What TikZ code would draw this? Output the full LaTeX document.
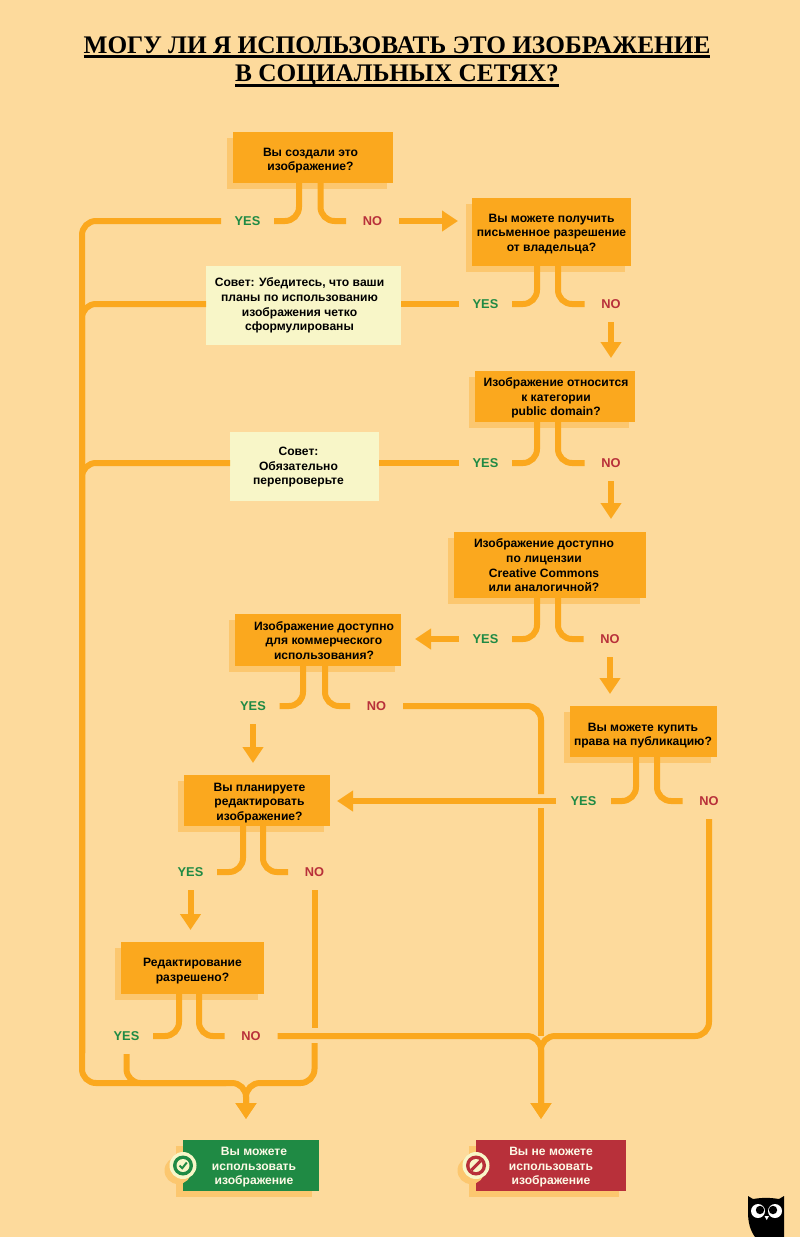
\documentclass[tikz,border=0pt]{standalone}
\usepackage{fontspec}
\setmainfont{Liberation Sans}
\newfontfamily\titlefont{Liberation Serif}
\usepackage{xcolor}
\usetikzlibrary{positioning,shapes,arrows.meta,shadows}

\definecolor{pagebg}{HTML}{FDDA9C}
\definecolor{flowcol}{HTML}{FBA81E}
\definecolor{shadecol}{HTML}{FCC76F}
\definecolor{tipcol}{HTML}{F8F6C8}
\definecolor{yescol}{HTML}{1F8A44}
\definecolor{nocol}{HTML}{B8303A}
\definecolor{endtext}{HTML}{FDF9E6}

\newcommand{\boxlines}[2]{\hspace*{#1}\begin{tabular}[t]{@{}c@{}}#2\end{tabular}}

\begin{document}
\begin{tikzpicture}[
    x=1pt, y=-1pt,
    every node/.style={outer sep=0pt},
    qbox/.style={rectangle, fill=flowcol, inner sep=0pt, text=black,
        font=\fontsize{12.1}{14.6}\selectfont\bfseries,
        drop shadow={shadow xshift=-6pt, shadow yshift=-6pt, fill=shadecol, opacity=1}},
    tipbox/.style={rectangle, fill=tipcol, inner sep=0pt, text=black,
        font=\fontsize{12.1}{14.6}\selectfont\bfseries},
    endbox/.style={rectangle, inner sep=0pt, text=endtext, minimum width=136pt, minimum height=51pt,
        font=\fontsize{12.1}{14.6}\selectfont\bfseries,
        drop shadow={shadow xshift=-7pt, shadow yshift=-6pt, fill=shadecol, opacity=1}},
    yeslab/.style={inner sep=0pt, minimum width=53pt, minimum height=36pt, text=yescol, font=\fontsize{12.8}{15}\selectfont\bfseries},
    nolab/.style={inner sep=0pt, minimum width=53pt, minimum height=36pt, text=nocol, font=\fontsize{12.8}{15}\selectfont\bfseries},
    titlelab/.style={anchor=base, inner sep=0pt, font=\titlefont\fontsize{25.3}{28}\selectfont\bfseries},
    titleline/.style={line width=2.4pt, black},
    flow/.style={draw=flowcol, line width=6pt, rounded corners=14pt},
    arrow/.style={flow, -{Triangle[width=20pt,length=16pt]}},
    badge/.style={circle, inner sep=0pt, fill=tipcol, minimum size=27pt,
        drop shadow={shadow xshift=-5pt, shadow yshift=-5pt, fill=shadecol, opacity=1}},
]
    \useasboundingbox (0,0) rectangle (800,1237);
    \fill[pagebg] (0,0) rectangle (800,1237);

    % Title
    \node[titlelab] (title1) at (397,53) {МОГУ ЛИ Я ИСПОЛЬЗОВАТЬ ЭТО ИЗОБРАЖЕНИЕ};
    \node[titlelab] (title2) at (397,81) {В СОЦИАЛЬНЫХ СЕТЯХ?};
    \draw[titleline] ([yshift=-3.6pt]title1.base west) -- ([yshift=-3.6pt]title1.base east);
    \draw[titleline] ([yshift=-4.4pt]title2.base west) -- ([yshift=-4.4pt]title2.base east);

    % Questions
    \node[qbox, minimum width=160pt, minimum height=51pt, text height=16pt] (q1) at (313,157.5) {\boxlines{-5pt}{Вы создали это\\изображение?}};
    \node[qbox, minimum width=159pt, minimum height=68pt, text height=14pt, below right=15pt and 79pt of q1] (q2) {\boxlines{0pt}{Вы можете получить\\письменное разрешение\\от владельца?}};
    \node[qbox, minimum width=160pt, minimum height=51pt, text height=14pt, below=105pt of q2, xshift=3.5pt] (q3) {\boxlines{2pt}{Изображение относится\\к категории\\public domain?}};
    \node[qbox, minimum width=192pt, minimum height=66pt, text height=14pt, below=110pt of q3, xshift=-5pt] (q4) {\boxlines{-12pt}{Изображение доступно\\по лицензии\\Creative Commons\\или аналогичной?}};
    \node[qbox, minimum width=147pt, minimum height=51pt, text height=18pt, below=108pt of q4, xshift=93.5pt] (q5) {\boxlines{-1pt}{Вы можете купить\\права на публикацию?}};
    \node[qbox, minimum width=166pt, minimum height=52pt, text height=14pt, left=53pt of q4, yshift=-75pt] (q6) {\boxlines{12pt}{Изображение доступно\\для коммерческого\\использования?}};
    \node[qbox, minimum width=146pt, minimum height=51pt, text height=15pt, below=109pt of q6, xshift=-61pt] (q7) {\boxlines{5pt}{Вы планируете\\редактировать\\изображение?}};
    \node[qbox, minimum width=143pt, minimum height=52pt, text height=16pt, below=116pt of q7, xshift=-64.5pt] (q8) {\boxlines{0pt}{Редактирование\\разрешено?}};

    % Tips
    \node[tipbox, minimum width=195pt, minimum height=79pt, text height=11pt, below=83pt of q1, xshift=-9.5pt] (tip1) {\boxlines{-8pt}{Совет: Убедитесь, что ваши\\планы по использованию\\изображения четко\\сформулированы}};
    \node[tipbox, minimum width=149pt, minimum height=69pt, text height=12pt, below=87pt of tip1, xshift=1pt] (tip2) {\boxlines{-12pt}{Совет:\\Обязательно\\перепроверьте}};

    % Answers
    \node[endbox, fill=yescol, text height=14pt, below=146pt of q8, xshift=58.5pt] (ok) {\boxlines{6pt}{Вы можете\\использовать\\изображение}};
    \node[endbox, fill=nocol, text height=14pt, minimum width=150pt, right=157pt of ok] (no) {\boxlines{0pt}{Вы не можете\\использовать\\изображение}};
    \coordinate (oktip) at ([shift={(-5pt,21pt)}]ok.north);
    \coordinate (notip) at ([shift={(-10pt,21pt)}]no.north);
    \coordinate (busl) at (82,1083);

    % Yes and no labels
    \node[yeslab, below=20pt of q1, xshift=-65.5pt] (y1) {YES};
    \node[nolab, below=20pt of q1, xshift=59.5pt] (n1) {NO};
    \node[yeslab, below=20pt of q2, xshift=-66pt] (y2) {YES};
    \node[nolab, below=20pt of q2, xshift=59.5pt] (n2) {NO};
    \node[yeslab, below=23pt of q3, xshift=-69.5pt] (y3) {YES};
    \node[nolab, below=23pt of q3, xshift=56pt] (n3) {NO};
    \node[yeslab, below=23pt of q4, xshift=-64.5pt] (y4) {YES};
    \node[nolab, below=23pt of q4, xshift=60pt] (n4) {NO};
    \node[yeslab, minimum width=55pt, below=26pt of q5, xshift=-60pt] (y5) {YES};
    \node[nolab, below=26pt of q5, xshift=65.5pt] (n5) {NO};
    \node[yeslab, below=22pt of q6, xshift=-65pt] (y6) {YES};
    \node[nolab, below=22pt of q6, xshift=58.5pt] (n6) {NO};
    \node[yeslab, below=28pt of q7, xshift=-66.5pt] (y7) {YES};
    \node[nolab, below=28pt of q7, xshift=57.5pt] (n7) {NO};
    \node[yeslab, below=24pt of q8, xshift=-66pt] (y8) {YES};
    \node[nolab, below=24pt of q8, xshift=58.5pt] (n8) {NO};

    % Legs under the questions
    \draw[flow] ([xshift=-14pt]q1.south) |- (y1);
    \draw[flow] ([xshift=7.5pt]q1.south) |- (n1);
    \draw[flow] ([xshift=-14.5pt]q2.south) |- (y2);
    \draw[flow] ([xshift=6.5pt]q2.south) |- (n2);
    \draw[flow] ([xshift=-18pt]q3.south) |- (y3);
    \draw[flow] ([xshift=3pt]q3.south) |- (n3);
    \draw[flow] ([xshift=-13pt]q4.south) |- (y4);
    \draw[flow] ([xshift=8pt]q4.south) |- (n4);
    \draw[flow] ([xshift=-7.5pt]q5.south) |- (y5);
    \draw[flow] ([xshift=13.5pt]q5.south) |- (n5);
    \draw[flow] ([xshift=-15pt]q6.south) |- (y6);
    \draw[flow] ([xshift=7pt]q6.south) |- (n6);
    \draw[flow] ([xshift=-14pt]q7.south) |- (y7);
    \draw[flow] ([xshift=6pt]q7.south) |- (n7);
    \draw[flow] ([xshift=-13.5pt]q8.south) |- (y8);
    \draw[flow] ([xshift=6.5pt]q8.south) |- (n8);

    % Arrows to the next question
    \draw[arrow, shorten >=14pt] (n1) -- (n1 -| q2.west);
    \draw[arrow, shorten >=13pt] (n2) -- (n2 |- q3.north);
    \draw[arrow, shorten >=13pt] (n3) -- (n3 |- q4.north);
    \draw[arrow, shorten >=14pt] (y4) -- (y4 -| q6.east);
    \draw[arrow, shorten >=12pt] (n4) -- (n4 |- q5.north);
    \draw[arrow, shorten >=12pt] (y6) -- (y6 |- q7.north);
    \draw[arrow, shorten >=7pt] (y5) -- (y5 -| q7.east);
    \draw[arrow, shorten >=12pt] (y7) -- (y7 |- q8.north);

    % Through the tips
    \draw[flow] (y2) -- (y2 -| tip1.east);
    \draw[flow] (tip1.west |- y2) -| ([yshift=30pt]busl);
    \draw[flow] (y3) -- (y3 -| tip2.east);
    \draw[flow] (tip2.west |- y3) -| ([yshift=30pt]busl);

    % To the allowed box
    \draw[arrow] (y1) -| (busl) -| (oktip);
    \draw[flow] (y8) |- ([xshift=-20pt]oktip |- busl);
    \draw[flow] (n7) -- ([yshift=8pt]n7.south |- n8);
    \draw[arrow] ([yshift=-7pt]n7.south |- n8) |- (oktip |- busl) -- (oktip);

    % To the forbidden box
    \draw[flow] (n6) -| ([yshift=7pt]notip |- y5);
    \draw[flow] ([yshift=-7pt]notip |- y5) -- (notip |- n8);
    \draw[arrow] (n8) -| (notip);
    \draw[arrow] (n5) |- (notip |- n8) -- (notip);

    % Badges
    \node[badge] (okbadge) at (ok.west) {};
    \node[circle, fill=yescol, minimum size=20pt, inner sep=0pt] (okring) at (okbadge) {};
    \node[circle, fill=tipcol, minimum size=13pt, inner sep=0pt] (okdisc) at (okbadge) {};
    \draw[yescol, line width=2pt] ([shift={(-3.5pt,0pt)}]okdisc.center) -- ([shift={(-0.8pt,-2.7pt)}]okdisc.center) -- ([shift={(3.8pt,3pt)}]okdisc.center);
    \node[badge] (nobadge) at (no.west) {};
    \node[circle, fill=nocol, minimum size=20pt, inner sep=0pt] (noring) at (nobadge) {};
    \node[circle, fill=tipcol, minimum size=13pt, inner sep=0pt] (nodisc) at (nobadge) {};
    \draw[nocol, line width=3pt] (nodisc.south west) -- (nodisc.north east);

    % Owl
    \fill[black] (748,1196) -- (753,1199) .. controls (762,1197.5) and (770,1197.5) .. (779,1199) -- (784,1196) -- (784,1237) -- (755,1237) .. controls (750,1230) and (748,1222) .. (748,1212) -- cycle;
    \fill[white] (758,1211) circle (7);
    \fill[white] (775,1211) circle (7);
    \fill[black] (760,1210) circle (4.2);
    \fill[black] (773,1210) circle (4.2);
    \fill[white] (764.5,1216) -- (769,1216) -- (766.7,1220) -- cycle;
\end{tikzpicture}
\end{document}
